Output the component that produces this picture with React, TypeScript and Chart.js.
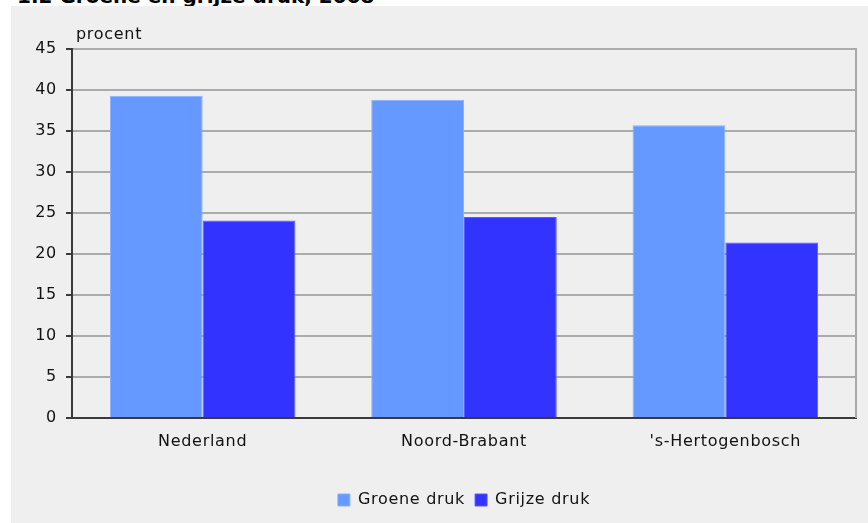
import React, { useEffect, useRef } from "react";
import { Chart, registerables } from "chart.js";

Chart.register(...registerables);

const categories = ["Nederland", "Noord-Brabant", "'s-Hertogenbosch"];
const groeneDruk = [39.3, 38.8, 35.7];
const grijzeDruk = [24.1, 24.5, 21.4];
const seriesLabels = ["Groene druk", "Grijze druk"];
const titleText = "1.2 Groene en grijze druk, 2008";
const unitLabel = "procent";

const FONT = "'DejaVu Sans', sans-serif";
const SPACING = "0.7px";

export default function App() {
  const ref = useRef<HTMLCanvasElement | null>(null);

  useEffect(() => {
    if (!ref.current) return;
    const setSpacing = (chart: any) => {
      try {
        chart.ctx.letterSpacing = SPACING;
      } catch (e) {}
    };
    const extras = {
      id: "extras",
      afterInit: setSpacing,
      beforeUpdate: setSpacing,
      beforeDraw: setSpacing,
      afterLayout(chart: any) {
        const lg = chart.legend;
        const ca = chart.chartArea;
        if (lg && ca) {
          const shift = (ca.left + ca.right) / 2 - (lg.left + lg.right) / 2;
          lg.left += shift;
          lg.right += shift;
        }
      },
      afterDraw(chart: any) {
        const { ctx, chartArea } = chart;
        ctx.save();
        ctx.strokeStyle = "#a9a9a9";
        ctx.lineWidth = 2;
        ctx.beginPath();
        ctx.moveTo(chartArea.right, chartArea.top - 1);
        ctx.lineTo(chartArea.right, chartArea.bottom);
        ctx.stroke();
        ctx.fillStyle = "#111";
        ctx.font = `16px ${FONT}`;
        ctx.textAlign = "left";
        ctx.textBaseline = "middle";
        ctx.fillText(unitLabel, chartArea.left + 4, chartArea.top - 14);
        ctx.restore();
      },
    };
    const chart = new Chart(ref.current, {
      type: "bar",
      data: {
        labels: categories,
        datasets: [
          {
            label: seriesLabels[0],
            data: groeneDruk,
            backgroundColor: "#6699ff",
            borderColor: "#8ab0ff",
            borderWidth: 1,
          },
          {
            label: seriesLabels[1],
            data: grijzeDruk,
            backgroundColor: "#3333ff",
            borderColor: "#5a5aff",
            borderWidth: 1,
          },
        ],
      },
      options: {
        responsive: false,
        animation: false,
        maintainAspectRatio: false,
        layout: { padding: { top: 43, right: 12, left: 0, bottom: 5 } },
        datasets: { bar: { barPercentage: 1, categoryPercentage: 0.71 } },
        plugins: {
          legend: {
            position: "bottom",
            labels: {
              boxWidth: 12,
              boxHeight: 12,
              padding: 10,
              color: "#111",
              font: { family: FONT, size: 16 },
            },
          },
          tooltip: { enabled: false },
        },
        scales: {
          x: {
            grid: { display: false, drawTicks: false },
            border: { color: "#3a3a3a", width: 2 },
            ticks: { color: "#111", font: { family: FONT, size: 16 }, padding: 14 },
            afterFit: (s: any) => {
              s.height = 64;
            },
          },
          y: {
            min: 0,
            max: 45,
            grid: { color: "#ababab", lineWidth: 2, tickColor: "#3a3a3a", tickLength: 6 },
            border: { color: "#3a3a3a", width: 2 },
            ticks: { stepSize: 5, color: "#111", font: { family: FONT, size: 16 }, padding: 9 },
            afterFit: (s: any) => {
              s.width = 61;
            },
          },
        },
      },
      plugins: [extras],
    });
    return () => chart.destroy();
  }, []);

  return (
    <div style={{ position: "fixed", left: 0, top: 0, width: 868, height: 523, background: "#fff", overflow: "hidden" }}>
      <div
        style={{
          position: "absolute",
          left: 17,
          top: -14,
          fontFamily: FONT,
          fontWeight: "bold",
          fontSize: 20,
          lineHeight: "20px",
          whiteSpace: "nowrap",
          color: "#000",
        }}
      >
        {titleText}
      </div>
      <div style={{ position: "absolute", left: 11, top: 6, width: 857, height: 517, background: "#efefef" }}>
        <canvas ref={ref} width={857} height={517} style={{ display: "block" }} />
      </div>
    </div>
  );
}
